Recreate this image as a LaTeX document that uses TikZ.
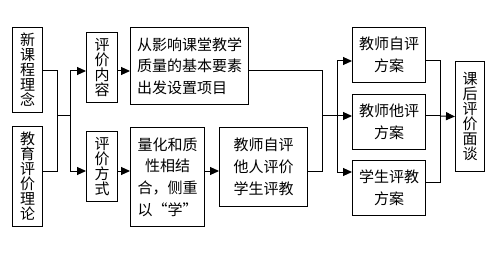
\documentclass[tikz,border=0pt]{standalone}
\usepackage{fontspec}
\newfontfamily\cjk{Noto Sans CJK SC}
\usepackage{tikz}
\usetikzlibrary{
  arrows.meta,
  positioning,
  calc
}

\tikzset{
  box/.style={draw,line width=1pt,inner sep=0pt,anchor=north west,align=center,
    font=\cjk\fontsize{15}{15}\selectfont},
  para/.style={box,font=\cjk\fontsize{15}{21.7}\selectfont},
  arr/.style={line width=1pt,-{Triangle[length=9pt,width=8pt]}},
  link/.style={line width=1pt}
}

\begin{document}
\begin{tikzpicture}[x=1pt,y=-1pt]
  \useasboundingbox (0,0) rectangle (496,254);
  % Sources
  \node[box,minimum width=30,minimum height=85] (A) at (12,27) {新\\课\\程\\理\\念};
  \node[box,minimum width=30,minimum height=100] (B) at (12,126) {教\\育\\评\\价\\理\\论};
  % Content and method
  \node[box,minimum width=31,minimum height=70] (C) at (86,32) {评\\价\\内\\容};
  \node[box,minimum width=31,minimum height=70] (D) at (86,131) {评\\价\\方\\式};
  \node[para,minimum width=118,minimum height=77,align=left] (E) at (130,27)
    {从影响课堂教学\\质量的基本要素\\出发设置项目};
  \node[para,minimum width=74,minimum height=99] (F) at (130,127)
    {量化和质\\性相结\\合，侧重\\以“学”};
  \node[para,minimum width=88,minimum height=79] (G) at (219,127)
    {教师自评\\他人评价\\学生评教};
  % Plans
  \node[para,minimum width=73,minimum height=55] (H) at (352,27) {教师自评\\方案};
  \node[para,minimum width=73,minimum height=55] (I) at (352,94) {教师他评\\方案};
  \node[para,minimum width=73,minimum height=55] (J) at (352,160) {学生评教\\方案};
  \node[box,minimum width=29,minimum height=110] (K) at (455,61) {课\\后\\评\\价\\面\\谈};
  % Rows and junctions
  \coordinate (r1) at (0,71);
  \coordinate (r2) at (0,171);
  \coordinate (r3) at (0,61);
  \coordinate (r5) at (0,172);
  \coordinate (r6) at (0,182);
  \coordinate (ja) at (57,116);
  \coordinate (jb) at (70,116);
  \coordinate (jc) at (322,116);
  \coordinate (jd) at (337,116);
  \coordinate (je) at (440,116);
  % Connectors
  \draw[link] (A.east |- r1) -| (ja);
  \draw[link] (B.east |- r2) -| (ja);
  \draw[link] (ja) -- (jb);
  \draw[arr] (jb) |- (C.west |- r1);
  \draw[arr] (jb) |- (D.west |- r2);
  \draw[arr] (C.east |- r1) -- (E.west |- r1);
  \draw[arr] (D.east |- r2) -- (F.west |- r2);
  \draw[arr] (F.east |- r2) -- (G.west |- r2);
  \draw[link] (E.east |- r1) -| (jc);
  \draw[link] (G.east |- r2) -| (jc);
  \draw[link] (jc) -- (jd);
  \draw[arr] (jd) |- (H.west |- r3);
  \draw[arr] (jd) -- (I.west |- jd);
  \draw[arr] (jd) |- (J.west |- r5);
  \draw[link] (H.east |- r3) -| (je);
  \draw[link] (I.east |- je) -- (je);
  \draw[link] (J.east |- r6) -| (je);
  \draw[arr] (je) -- (K.west);
\end{tikzpicture}
\end{document}
